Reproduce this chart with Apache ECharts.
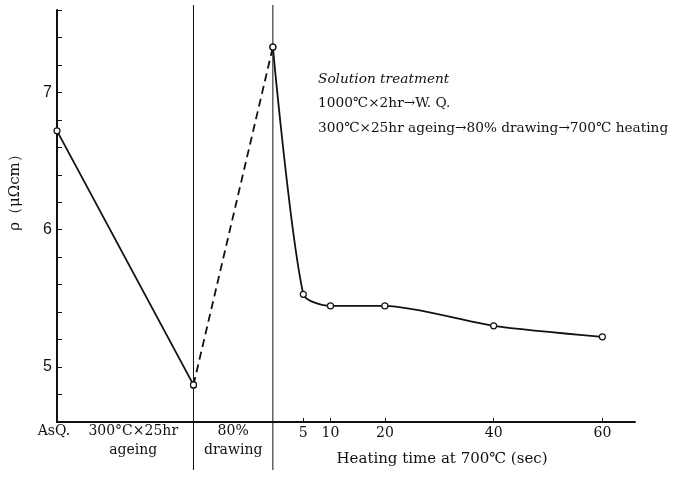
<!DOCTYPE html>
<html><head><meta charset="utf-8">
<script src="https://cdn.jsdelivr.net/npm/echarts@6/dist/echarts.min.js"></script>
<style>html,body{margin:0;padding:0;background:#fff}#c{width:692px;height:477px}</style>
</head><body><div id="c"></div>
<script>
// Stage positions on the x axis (axis units; heating time in seconds starts at 0)
var stageX = [-40.3, -15.2, -0.6];        // As-quenched, after ageing, after drawing
var stageRho = [6.72, 4.87, 7.33];         // resistivity at those stages
var heatTime = [5, 10, 20, 40, 60];        // sec at 700°C
var heatRho = [5.53, 5.445, 5.445, 5.30, 5.22];
var xTicks = [5, 10, 20, 40, 60];
var yTicks = [5, 6, 7];
var noteLines = ['Solution treatment', '1000℃×2hr→W. Q.', '300℃×25hr ageing→80% drawing→700℃ heating'];

var serif = '"DejaVu Serif","Liberation Serif",serif';
var sans = '"Liberation Sans","DejaVu Sans",sans-serif';

var ageingLine = [[stageX[0], stageRho[0]], [stageX[1], stageRho[1]]];
var drawingLine = [[stageX[1], stageRho[1]], [stageX[2], stageRho[2]]];
var heatingLine = [[stageX[2], stageRho[2]]];
for (var i = 0; i < heatTime.length; i++) heatingLine.push([heatTime[i], heatRho[i]]);

var chart = echarts.init(document.getElementById('c'));
var sym = {symbol: 'circle', symbolSize: 6, itemStyle: {color: '#fff', borderColor: '#111', borderWidth: 1.2}};
chart.setOption({
  animation: false,
  backgroundColor: '#fff',
  grid: {left: 57, top: 10, width: 578, height: 412},
  xAxis: {
    type: 'value', min: -40.3, max: 66,
    axisLine: {show: true, onZero: false, lineStyle: {color: '#111', width: 2}},
    axisTick: {show: true, inside: true, length: 4, customValues: xTicks, lineStyle: {color: '#111'}},
    axisLabel: {show: true, customValues: xTicks, color: '#111', fontFamily: serif, fontSize: 14, margin: 4},
    splitLine: {show: false}
  },
  yAxis: {
    type: 'value', min: 4.6, max: 7.6, interval: 0.2,
    axisLine: {show: true, onZero: false, lineStyle: {color: '#111', width: 2}},
    axisTick: {show: true, inside: true, length: 5, lineStyle: {color: '#111'}},
    axisLabel: {
      color: '#111', fontFamily: sans, fontSize: 16, margin: 5,
      formatter: function (v) {
        for (var k = 0; k < yTicks.length; k++) if (Math.abs(v - yTicks[k]) < 1e-6) return String(yTicks[k]);
        return '';
      }
    },
    splitLine: {show: false}
  },
  series: [
    Object.assign({type: 'line', data: ageingLine, lineStyle: {color: '#111', width: 1.8}}, sym),
    Object.assign({type: 'line', data: drawingLine, lineStyle: {color: '#111', width: 1.8, type: [8, 5]}}, sym),
    Object.assign({type: 'line', data: heatingLine, smooth: 0.25, lineStyle: {color: '#111', width: 1.8}}, sym)
  ]
});

var p1 = chart.convertToPixel({gridIndex: 0}, [stageX[1], 5]);
var p2 = chart.convertToPixel({gridIndex: 0}, [stageX[2], 5]);
var p0 = chart.convertToPixel({gridIndex: 0}, [stageX[0], 5]);
var axisY = chart.convertToPixel({gridIndex: 0}, [0, 4.6])[1];
var tStyle = {fill: '#111', font: '14px ' + serif, textAlign: 'center', textVerticalAlign: 'middle'};
function txt(x, y, s, extra) { return {type: 'text', x: x, y: y, style: Object.assign({}, tStyle, {text: s}, extra || {}), z: 10}; }
var graphics = [
  {type: 'line', shape: {x1: p1[0], y1: 5, x2: p1[0], y2: 470}, style: {stroke: '#111', lineWidth: 1}, z: 1},
  {type: 'line', shape: {x1: p2[0], y1: 5, x2: p2[0], y2: 470}, style: {stroke: '#111', lineWidth: 1}, z: 1},
  txt(p0[0] - 3, axisY + 9, 'AsQ.'),
  txt((p0[0] + p1[0]) / 2 + 8, axisY + 9, '300°C×25hr'),
  txt((p0[0] + p1[0]) / 2 + 8, axisY + 28, 'ageing'),
  txt((p1[0] + p2[0]) / 2, axisY + 9, '80%'),
  txt((p1[0] + p2[0]) / 2, axisY + 28, 'drawing'),
  txt(442, axisY + 37, 'Heating time at 700℃ (sec)', {font: '15px ' + serif}),
  txt(318, 79, noteLines[0], {textAlign: 'left', font: 'italic 13.7px ' + serif}),
  txt(318, 103, noteLines[1], {textAlign: 'left', font: '13.7px ' + serif}),
  txt(318, 128, noteLines[2], {textAlign: 'left', font: '13.7px ' + serif}),
  {type: 'text', x: 15, y: 189, rotation: Math.PI / 2,
   style: {text: 'ρ（μΩcm）', fill: '#111', font: '15px ' + serif, textAlign: 'center', textVerticalAlign: 'middle'}, z: 10}
];
chart.setOption({graphic: graphics});
</script>
</body></html>
